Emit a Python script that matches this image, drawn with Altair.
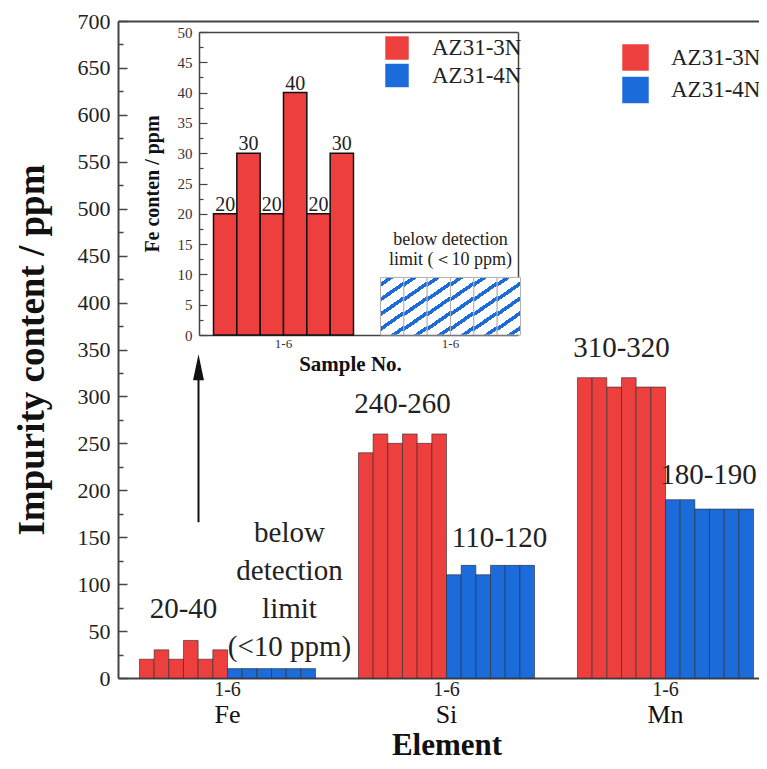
import altair as alt
import pandas as pd

# ---------------- data ----------------
elements = ["Fe", "Si", "Mn"]
series = ["AZ31-3N", "AZ31-4N"]
samples = ["1", "2", "3", "4", "5", "6"]

fe_3n = [20, 30, 20, 40, 20, 30]
fe_4n = [10, 10, 10, 10, 10, 10]
si_3n = [240, 260, 250, 260, 250, 260]
si_4n = [110, 120, 110, 120, 120, 120]
mn_3n = [320, 320, 310, 320, 310, 310]
mn_4n = [190, 190, 180, 180, 180, 180]

range_3n_labels = ["20-40", "240-260", "310-320"]
range_3n_ypos = [74, 292, 352]
si_4n_label, si_4n_ypos = ["110-120"], [149]
mn_4n_label, mn_4n_ypos = ["180-190"], [216]

fe_note = ["below", "detection", "limit", "(<10 ppm)"]
fe_note_y = [155]
arrow_y = [166]
arrow_y2 = [331]

inset_groups = ["AZ31-3N", "AZ31-4N"]
inset_3n = [20, 30, 20, 40, 20, 30]
inset_4n = [9.5, 9.5, 9.5, 9.5, 9.5, 9.5]
inset_note = ["below detection", "limit (\uff1c10 ppm)"]
inset_note_y = [15.7]

# ---------------- style ----------------
SERIF = "Liberation Serif, Times New Roman, serif"
RED = "#EE3F3F"
BLUE = "#1B6BDB"
AX = "#444444"
W, H = 657, 657
IX0, IX1, IY0, IY1 = 81, 400, 314, 11   # inset frame inside the plot
IBAND = [82, 416]

rows = []
for el, v3, v4 in zip(elements, [fe_3n, si_3n, mn_3n], [fe_4n, si_4n, mn_4n]):
    for s, v in zip(samples, v3):
        rows.append(dict(Element=el, Series="AZ31-3N", Key="AZ31-3N-" + s, Value=v))
    for s, v in zip(samples, v4):
        rows.append(dict(Element=el, Series="AZ31-4N", Key="AZ31-4N-" + s, Value=v))
main_df = pd.DataFrame(rows)
key_order = ["AZ31-3N-" + s for s in samples] + ["AZ31-4N-" + s for s in samples]

inset_rows = []
for g, vals in zip(inset_groups, [inset_3n, inset_4n]):
    for s, v in zip(samples, vals):
        inset_rows.append(dict(Group=g, Sample=s, Value=v))
inset_df = pd.DataFrame(inset_rows)


def mxs():
    return alt.Scale(type="band", domain=elements, paddingInner=0.196, paddingOuter=0.098)


def mys():
    return alt.Scale(domain=[0, 700], nice=False)


# ---------------- main chart ----------------
moff = alt.Scale(type="band", domain=key_order, paddingInner=0, paddingOuter=0)

x_axis_main = alt.Axis(orient="bottom", labelExpr="'1-6'", labelAngle=0, labelFontSize=20,
                       labelFont=SERIF, labelColor="#222", labelPadding=1, ticks=False,
                       domainColor=AX, domainWidth=2, title="Element", titleFont=SERIF,
                       titleFontSize=31, titleFontWeight="bold", titleColor="#111",
                       titlePadding=31, grid=False)
y_axis_main = alt.Axis(orient="left", values=list(range(0, 701, 50)), ticks=False,
                       labelFontSize=22, labelFont=SERIF, labelColor="#222", labelPadding=8,
                       domainColor=AX, domainWidth=2, grid=False,
                       title="Impurity content / ppm", titleFont=SERIF, titleFontSize=37,
                       titleFontWeight="bold", titleColor="#111", titlePadding=26)

main_legend = alt.Legend(orient="none", legendX=504, legendY=23, title=None, direction="vertical",
                         symbolType="square", symbolSize=700, symbolStrokeWidth=0, symbolOpacity=1,
                         labelFont=SERIF, labelFontSize=23, labelColor="#222", rowPadding=5.5,
                         labelOffset=22, padding=0)

bars = alt.Chart(main_df).mark_bar(stroke="#2a2a2a", strokeWidth=0.8, strokeOpacity=0.75).encode(
    x=alt.X("Element:N", scale=mxs(), sort=elements, axis=x_axis_main),
    xOffset=alt.XOffset("Key:N", scale=moff, sort=key_order),
    y=alt.Y("Value:Q", scale=mys(), axis=y_axis_main),
    color=alt.Color("Series:N", scale=alt.Scale(domain=series, range=[RED, BLUE]), legend=main_legend),
)


def range_text(els, labels, ys, dx):
    return alt.Chart(pd.DataFrame(dict(Element=els, Label=labels, Y=ys))).mark_text(
        dx=dx, fontSize=29, font=SERIF, color="#222", baseline="middle").encode(
        x=alt.X("Element:N", scale=mxs(), axis=None), y=alt.Y("Y:Q", scale=mys(), axis=None),
        text="Label:N")


lab3 = range_text(elements, range_3n_labels, range_3n_ypos, -44)
lab_si4 = range_text(["Si"], si_4n_label, si_4n_ypos, 53)
lab_mn4 = range_text(["Mn"], mn_4n_label, mn_4n_ypos, 43)

note = alt.Chart(pd.DataFrame(dict(Element=["Fe"], Y=fe_note_y))).mark_text(
    text=fe_note, dx=62, lineHeight=38, fontSize=29, font=SERIF, color="#222", baseline="middle").encode(
    x=alt.X("Element:N", scale=mxs(), axis=None), y=alt.Y("Y:Q", scale=mys(), axis=None))

arrow_df = pd.DataFrame(dict(Element=["Fe"], Y=arrow_y, Y2=arrow_y2))
shaft = alt.Chart(arrow_df).mark_rule(xOffset=-29, strokeWidth=2, color="#111").encode(
    x=alt.X("Element:N", scale=mxs(), axis=None), y=alt.Y("Y:Q", scale=mys(), axis=None), y2="Y2:Q")
head = alt.Chart(arrow_df).mark_point(xOffset=-29, shape="M0,-1L0.42,1L-0.42,1Z", size=676,
                                      filled=True, color="#111", opacity=1).encode(
    x=alt.X("Element:N", scale=mxs(), axis=None), y=alt.Y("Y2:Q", scale=mys(), axis=None))

names = alt.Chart(pd.DataFrame(dict(Element=elements))).mark_text(
    fontSize=26, font=SERIF, color="#111", baseline="middle").encode(
    x=alt.X("Element:N", scale=mxs(), axis=None), y=alt.value(H + 37), text="Element:N")

# inward ticks + top frame of the main plot
ax_df = pd.DataFrame(dict(fx=[0, 1], fy=[0, 700]))
main_ticks = alt.Chart(ax_df).mark_point(opacity=0).encode(
    x=alt.X("fx:Q", scale=alt.Scale(domain=[0, 1], nice=False),
            axis=alt.Axis(orient="top", offset=0, labels=False, ticks=False, title=None,
                          domainColor=AX, domainWidth=2, grid=False)),
    y=alt.Y("fy:Q", scale=mys(),
            axis=alt.Axis(orient="right", offset=-W, values=list(range(0, 701, 50)), labels=False,
                          domain=False, tickSize=9, tickColor=AX, tickWidth=1.5, title=None, grid=False)),
)
main_minor = alt.Chart(ax_df).mark_point(opacity=0).encode(
    y=alt.Y("fy:Q", scale=mys(),
            axis=alt.Axis(orient="right", offset=-W, values=list(range(25, 700, 50)), labels=False,
                          domain=False, tickSize=5, tickColor=AX, tickWidth=1.5, title=None, grid=False)),
)

# ---------------- inset ----------------
def ixs():
    return alt.Scale(type="band", domain=inset_groups, range=IBAND, paddingInner=0.1617, paddingOuter=0.0808)


def iys():
    return alt.Scale(domain=[0, 50], range=[IY0, IY1], nice=False)


ioff = alt.Scale(type="band", domain=samples, paddingInner=0, paddingOuter=0)

inset_x_axis = alt.Axis(orient="bottom", offset=IY0 - H, labelExpr="'1-6'", labelAngle=0, ticks=False,
                        domain=False, labelFontSize=13, labelPadding=2, labelFont=SERIF, labelColor="#333",
                        title="Sample No.", titleFont=SERIF, titleFontSize=21, titleFontWeight="bold",
                        titleColor="#111", titlePadding=3, titleX=232, grid=False)
inset_y_axis = alt.Axis(orient="left", offset=-IX0, values=list(range(0, 51, 5)), ticks=False,
                        labelFontSize=15, labelFont=SERIF, labelColor="#333", labelPadding=7,
                        domainColor=AX, domainWidth=1.5, grid=False, title="Fe conten / ppm",
                        titleFont=SERIF, titleFontSize=20, titleFontWeight="bold", titleColor="#111",
                        titlePadding=15)
inset_legend = alt.Legend(orient="none", legendX=267, legendY=15, title=None, direction="vertical",
                          symbolType="square", symbolSize=550, symbolStrokeWidth=0, symbolOpacity=1,
                          labelFont=SERIF, labelFontSize=23, labelColor="#222", rowPadding=3.5,
                          labelOffset=23, padding=0)

red_df = inset_df[inset_df.Group == "AZ31-3N"]
blue_df = inset_df[inset_df.Group == "AZ31-4N"]

ibars = alt.Chart(red_df).mark_bar(stroke="#111", strokeWidth=1.5).encode(
    x=alt.X("Group:N", scale=ixs(), sort=inset_groups, axis=inset_x_axis),
    xOffset=alt.XOffset("Sample:N", scale=ioff),
    y=alt.Y("Value:Q", scale=iys(), axis=inset_y_axis),
    color=alt.Color("Group:N", scale=alt.Scale(domain=inset_groups, range=[RED, BLUE]), legend=inset_legend),
)

stops = [alt.GradientStop(offset=0, color="white")]
for i in range(5):
    c = 0.1 + 0.2 * i
    stops += [alt.GradientStop(offset=c - 0.03, color="white"),
              alt.GradientStop(offset=c - 0.03, color=BLUE),
              alt.GradientStop(offset=c + 0.03, color=BLUE),
              alt.GradientStop(offset=c + 0.03, color="white")]
stops.append(alt.GradientStop(offset=1, color="white"))
hatch = alt.LinearGradient(gradient="linear", stops=stops, x1=0, y1=0, x2=0.336, y2=1.188)

ihatch = alt.Chart(blue_df).mark_bar(fill=hatch, stroke="#b0b0b0", strokeWidth=1).encode(
    x=alt.X("Group:N", scale=ixs(), axis=None),
    xOffset=alt.XOffset("Sample:N", scale=ioff),
    y=alt.Y("Value:Q", scale=iys(), axis=None),
)

ilabels = alt.Chart(red_df).mark_text(dy=-3, baseline="alphabetic", fontSize=20, font=SERIF,
                                      color="#222").encode(
    x=alt.X("Group:N", scale=ixs(), axis=None),
    xOffset=alt.XOffset("Sample:N", scale=ioff),
    y=alt.Y("Value:Q", scale=iys(), axis=None),
    text=alt.Text("Value:Q"),
)

inote = alt.Chart(pd.DataFrame(dict(Group=["AZ31-4N"], Y=inset_note_y))).mark_text(
    text=inset_note, lineHeight=20, fontSize=18, font=SERIF, color="#222", baseline="middle").encode(
    x=alt.X("Group:N", scale=ixs(), axis=None), y=alt.Y("Y:Q", scale=iys(), axis=None))

iax_df = pd.DataFrame(dict(fx=[0, 1], fy=[0, 50]))
iframe_a = alt.Chart(iax_df).mark_point(opacity=0).encode(
    x=alt.X("fx:Q", scale=alt.Scale(domain=[0, 1], range=[IX0, IX1], nice=False),
            axis=alt.Axis(orient="top", offset=-IY1, labels=False, ticks=False, title=None,
                          domainColor=AX, domainWidth=1.5, grid=False)),
    y=alt.Y("fy:Q", scale=iys(),
            axis=alt.Axis(orient="right", offset=IX1 - W, labels=False, ticks=False, title=None,
                          domainColor=AX, domainWidth=1.5, grid=False)),
)
iframe_b = alt.Chart(iax_df).mark_point(opacity=0).encode(
    x=alt.X("fx:Q", scale=alt.Scale(domain=[0, 1], range=[IX0, IX1], nice=False),
            axis=alt.Axis(orient="bottom", offset=IY0 - H, labels=False, ticks=False, title=None,
                          domainColor=AX, domainWidth=1.5, grid=False)),
    y=alt.Y("fy:Q", scale=iys(),
            axis=alt.Axis(orient="right", offset=IX0 - W, values=list(range(0, 51, 5)), labels=False,
                          domain=False, tickSize=8, tickColor=AX, tickWidth=1.2, title=None, grid=False)),
)
iframe_c = alt.Chart(iax_df).mark_point(opacity=0).encode(
    y=alt.Y("fy:Q", scale=iys(),
            axis=alt.Axis(orient="right", offset=IX0 - W, values=[2.5, 7.5, 12.5, 17.5, 22.5, 27.5,
                                                                   32.5, 37.5, 42.5, 47.5],
                          labels=False, domain=False, tickSize=4, tickColor=AX, tickWidth=1.2,
                          title=None, grid=False)),
)

chart = alt.layer(
    bars, lab3, lab_si4, lab_mn4, note, shaft, head, names, main_ticks, main_minor,
    ibars, ihatch, ilabels, inote, iframe_a, iframe_b, iframe_c,
).resolve_scale(
    x="independent", y="independent", xOffset="independent", color="independent"
).properties(
    width=W, height=H,
    autosize=alt.AutoSizeParams(type="none"),
    padding={"left": 110, "top": 13, "right": -16, "bottom": 83},
).configure_view(stroke=None).configure(font=SERIF)

chart.save("out.html", embed_options={"renderer": "svg", "actions": False})
